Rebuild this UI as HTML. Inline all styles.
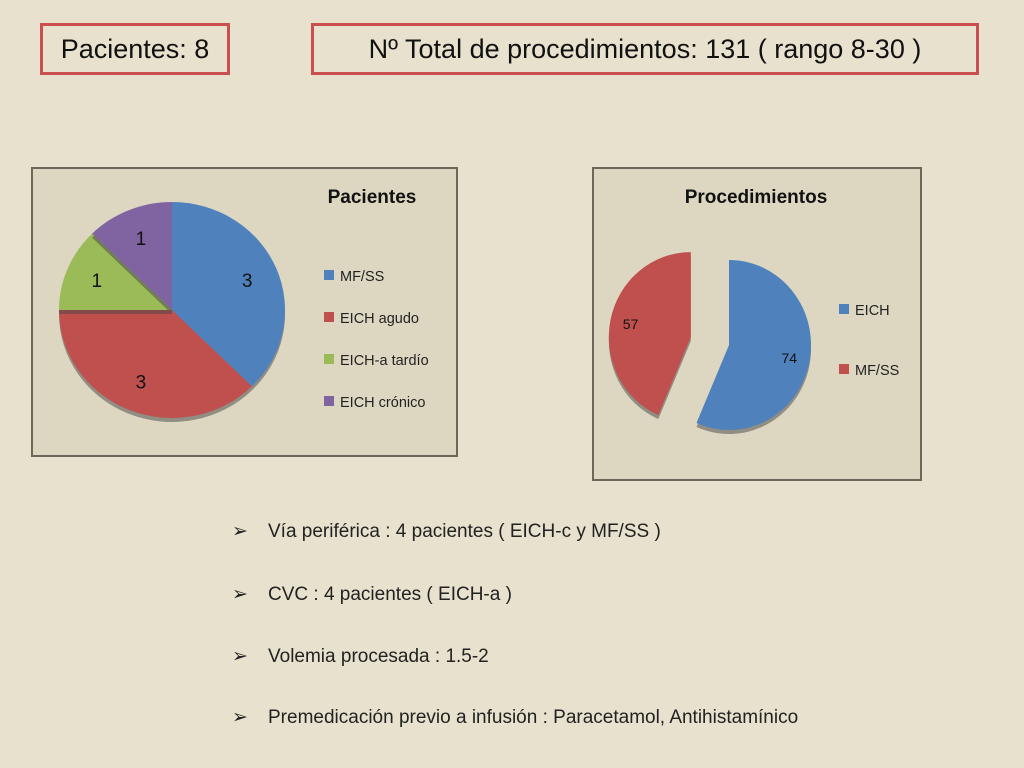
<!DOCTYPE html>
<html><head><meta charset="utf-8"><style>
body{margin:0;width:1024px;height:768px;background:#e7e1cd;font-family:"Liberation Sans",sans-serif;position:relative;overflow:hidden}
.box{position:absolute;border:3px solid #c9504e;color:#111;font-size:27px;line-height:46px;text-align:center;box-sizing:border-box;height:52px}
.chart{position:absolute;background:#ddd7c2;border:2px solid #6b675a;box-sizing:border-box}
.bul{position:absolute;left:232px;font-size:19px;color:#222}
.bul span{display:inline-block;width:36px}
</style></head><body>
<div class="box" style="left:40px;top:23px;width:190px">Pacientes: 8</div>
<div class="box" style="left:311px;top:23px;width:668px">Nº Total de procedimientos: 131 ( rango 8-30 )</div>
<div class="chart" style="left:31px;top:167px;width:427px;height:290px"></div>
<div class="chart" style="left:592px;top:167px;width:330px;height:314px"></div>
<svg id="s" width="1024" height="768" style="position:absolute;left:0;top:0" font-family="Liberation Sans, sans-serif"></svg>
<div class="bul" style="top:520px"><span>➢</span>Vía periférica :  4 pacientes ( EICH-c y MF/SS )</div>
<div class="bul" style="top:583px"><span>➢</span>CVC  : 4 pacientes  ( EICH-a )</div>
<div class="bul" style="top:645px"><span>➢</span>Volemia procesada : 1.5-2</div>
<div class="bul" style="top:706px"><span>➢</span>Premedicación previo a infusión : Paracetamol, Antihistamínico</div>
<script>
const patCats=["MF/SS","EICH agudo","EICH-a tardío","EICH crónico"];
const patVals=[3,3,1,1];
const patColors=["#4f81bd","#c0504d","#9bbb59","#8064a2"];
const procCats=["EICH","MF/SS"];
const procVals=[74,57];
const procColors=["#4f81bd","#c0504d"];
const svg=document.getElementById('s');
const NS="http://www.w3.org/2000/svg";
function mk(t,a,txt){const e=document.createElementNS(NS,t);for(const k in a)e.setAttribute(k,a[k]);if(txt!==undefined)e.textContent=txt;svg.appendChild(e);return e;}
function pt(cx,cy,rx,ry,f){const a=f*2*Math.PI;return [cx+rx*Math.sin(a),cy-ry*Math.cos(a)];}
function pie(vals,colors,cx,cy,rx,ry,offs,labelR,fs,names){
  const tot=vals.reduce((a,b)=>a+b,0);let c=0;
  vals.forEach((v,i)=>{
    const f0=c/tot,f1=(c+v)/tot;c+=v;
    const mid=(f0+f1)/2;const o=offs[i]||0;
    const ox=o*Math.sin(mid*2*Math.PI),oy=-o*Math.cos(mid*2*Math.PI);
    const x=cx+ox,y=cy+oy;
    const p0=pt(x,y,rx,ry,f0),p1=pt(x,y,rx,ry,f1);
    const lg=(f1-f0)>0.5?1:0;
    const sh=mk('path',{d:`M${x},${y+4}L${p0[0]},${p0[1]+4}A${rx},${ry} 0 ${lg} 1 ${p1[0]},${p1[1]+4}Z`,fill:'#444',opacity:0.5});
    
    
    const p=mk('path',{d:`M${x},${y}L${p0[0]},${p0[1]}A${rx},${ry} 0 ${lg} 1 ${p1[0]},${p1[1]}Z`,fill:colors[i]});
    
    
    const lp=pt(x,y,rx*labelR,ry*labelR,mid);
    const t=mk('text',{x:lp[0],y:lp[1]+fs*0.35,'font-size':fs,'text-anchor':'middle',fill:'#111'},String(v));
    
    
  });
}
pie(patVals,patColors,172,310,113,108,[0,0,0,0],0.72,19,["mf-ss","eich-agudo","eich-a-tardio","eich-cronico"]);
pie(procVals,procColors,729,345,82,85,[0,39],0.75,14,["eich","mf-ss-proc"]);
// titles & legends
let t=mk('text',{x:372,y:203,'font-size':19,'font-weight':'bold','text-anchor':'middle',fill:'#111'},'Pacientes');


t=mk('text',{x:756,y:203,'font-size':19,'font-weight':'bold','text-anchor':'middle',fill:'#111'},'Procedimientos');


patCats.forEach((n,i)=>{
  const y=276+i*42;
  const r=mk('rect',{x:324,y:y-6,width:10,height:10,fill:patColors[i]});
  
  
  const tx=mk('text',{x:340,y:y+5,'font-size':14.5,fill:'#222'},n);
  
  
});
procCats.forEach((n,i)=>{
  const y=310+i*60;
  const r=mk('rect',{x:839,y:y-6,width:10,height:10,fill:procColors[i]});
  
  
  const tx=mk('text',{x:855,y:y+5,'font-size':14.5,fill:'#222'},n);
  
  
});
</script>
</body></html>
